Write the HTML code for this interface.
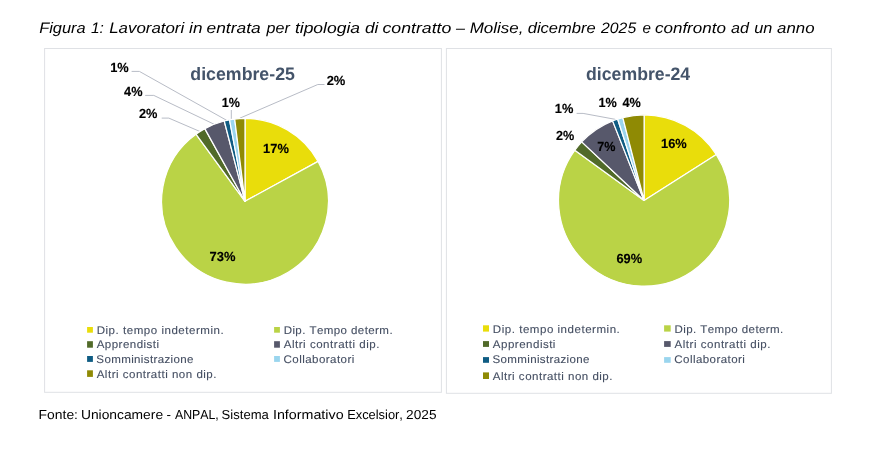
<!DOCTYPE html>
<html lang="it"><head><meta charset="utf-8"><title>Figura 1</title>
<style>
html,body{margin:0;padding:0;background:#fff;}
body{width:881px;height:451px;overflow:hidden;}
svg{display:block;font-family:"Liberation Sans",sans-serif;font-kerning:none;text-rendering:geometricPrecision;}
</style></head>
<body>
<svg width="881" height="451" viewBox="0 0 881 451">
<rect width="881" height="451" fill="#fff"/>
<text y="32.90" font-size="15.1" font-style="italic" fill="#000"><tspan x="39.20" textLength="46.46" lengthAdjust="spacingAndGlyphs">Figura</tspan> <tspan x="91.00" textLength="12.92" lengthAdjust="spacingAndGlyphs">1:</tspan> <tspan x="109.18" textLength="75.04" lengthAdjust="spacingAndGlyphs">Lavoratori</tspan> <tspan x="189.12" textLength="13.36" lengthAdjust="spacingAndGlyphs">in</tspan> <tspan x="206.51" textLength="54.18" lengthAdjust="spacingAndGlyphs">entrata</tspan> <tspan x="266.60" textLength="23.26" lengthAdjust="spacingAndGlyphs">per</tspan> <tspan x="294.91" textLength="65.09" lengthAdjust="spacingAndGlyphs">tipologia</tspan> <tspan x="364.92" textLength="13.39" lengthAdjust="spacingAndGlyphs">di</tspan> <tspan x="382.52" textLength="68.84" lengthAdjust="spacingAndGlyphs">contratto</tspan> <tspan x="456.00" textLength="9.00" lengthAdjust="spacingAndGlyphs">–</tspan> <tspan x="469.68" textLength="53.80" lengthAdjust="spacingAndGlyphs">Molise,</tspan> <tspan x="527.74" textLength="67.87" lengthAdjust="spacingAndGlyphs">dicembre</tspan> <tspan x="601.09" textLength="35.07" lengthAdjust="spacingAndGlyphs">2025</tspan> <tspan x="642.49" textLength="8.48" lengthAdjust="spacingAndGlyphs">e</tspan> <tspan x="654.94" textLength="71.00" lengthAdjust="spacingAndGlyphs">confronto</tspan> <tspan x="731.04" textLength="17.94" lengthAdjust="spacingAndGlyphs">ad</tspan> <tspan x="754.22" textLength="18.12" lengthAdjust="spacingAndGlyphs">un</tspan> <tspan x="777.12" textLength="37.41" lengthAdjust="spacingAndGlyphs">anno</tspan></text>
<text y="418.70" font-size="13.0" fill="#000"><tspan x="38.61" textLength="39.36" lengthAdjust="spacingAndGlyphs">Fonte:</tspan> <tspan x="80.93" textLength="82.18" lengthAdjust="spacingAndGlyphs">Unioncamere</tspan> <tspan x="166.50" textLength="4.50" lengthAdjust="spacingAndGlyphs">-</tspan> <tspan x="174.98" textLength="43.83" lengthAdjust="spacingAndGlyphs">ANPAL,</tspan> <tspan x="221.61" textLength="47.19" lengthAdjust="spacingAndGlyphs">Sistema</tspan> <tspan x="272.98" textLength="70.62" lengthAdjust="spacingAndGlyphs">Informativo</tspan> <tspan x="347.14" textLength="55.81" lengthAdjust="spacingAndGlyphs">Excelsior,</tspan> <tspan x="406.11" textLength="30.36" lengthAdjust="spacingAndGlyphs">2025</tspan></text>
<rect x="44.6" y="48.5" width="396.80" height="343.80" fill="#fff" stroke="#DFE1E5" stroke-width="1"/>
<rect x="446.4" y="48.5" width="385.00" height="344.80" fill="#fff" stroke="#DFE1E5" stroke-width="1"/>
<text x="190.37" y="80.10" font-size="18.0" font-weight="bold" fill="#44546A" textLength="104.52" lengthAdjust="spacingAndGlyphs">dicembre-25</text>
<text x="586.08" y="80.10" font-size="18.0" font-weight="bold" fill="#44546A" textLength="104.12" lengthAdjust="spacingAndGlyphs">dicembre-24</text>
<polyline points="131.6,71.4 139.4,71.4 226.8,120.4" fill="none" stroke="#B8BCC6" stroke-width="1"/>
<polyline points="145.2,95.4 153.8,95.4 214.0,124.2" fill="none" stroke="#B8BCC6" stroke-width="1"/>
<polyline points="161.7,118.1 168.8,118.1 200.2,131.6" fill="none" stroke="#B8BCC6" stroke-width="1"/>
<polyline points="231.3,110.0 231.3,119.5" fill="none" stroke="#B8BCC6" stroke-width="1"/>
<polyline points="324.5,84.5 317.8,84.5 239.8,118.2" fill="none" stroke="#B8BCC6" stroke-width="1"/>
<polyline points="576.6,113.4 583.1,113.4 615.1,119.3" fill="none" stroke="#B8BCC6" stroke-width="1"/>
<path d="M245.00 201.30L245.00 118.40A83.4 82.9 0 0 1 318.08 161.36Z" fill="#E9DD0B" stroke="#fff" stroke-width="1.25" stroke-linejoin="round"/>
<path d="M245.00 201.30L318.08 161.36A83.4 82.9 0 1 1 195.98 134.23Z" fill="#BAD346" stroke="#fff" stroke-width="1.25" stroke-linejoin="round"/>
<path d="M245.00 201.30L195.98 134.23A83.4 82.9 0 0 1 204.82 128.65Z" fill="#516A29" stroke="#fff" stroke-width="1.25" stroke-linejoin="round"/>
<path d="M245.00 201.30L204.82 128.65A83.4 82.9 0 0 1 224.26 121.00Z" fill="#57586B" stroke="#fff" stroke-width="1.25" stroke-linejoin="round"/>
<path d="M245.00 201.30L224.26 121.00A83.4 82.9 0 0 1 229.53 119.84Z" fill="#0F5C83" stroke="#fff" stroke-width="1.25" stroke-linejoin="round"/>
<path d="M245.00 201.30L229.53 119.84A83.4 82.9 0 0 1 234.70 119.03Z" fill="#9AD5EE" stroke="#fff" stroke-width="1.25" stroke-linejoin="round"/>
<path d="M245.00 201.30L234.70 119.03A83.4 82.9 0 0 1 245.00 118.40Z" fill="#8F8A04" stroke="#fff" stroke-width="1.25" stroke-linejoin="round"/>
<path d="M644.10 200.45L644.10 114.85A85.6 85.6 0 0 1 716.37 154.58Z" fill="#E9DD0B" stroke="#fff" stroke-width="1.25" stroke-linejoin="round"/>
<path d="M644.10 200.45L716.37 154.58A85.6 85.6 0 1 1 574.85 150.14Z" fill="#BAD346" stroke="#fff" stroke-width="1.25" stroke-linejoin="round"/>
<path d="M644.10 200.45L574.85 150.14A85.6 85.6 0 0 1 581.70 141.85Z" fill="#516A29" stroke="#fff" stroke-width="1.25" stroke-linejoin="round"/>
<path d="M644.10 200.45L581.70 141.85A85.6 85.6 0 0 1 612.59 120.86Z" fill="#57586B" stroke="#fff" stroke-width="1.25" stroke-linejoin="round"/>
<path d="M644.10 200.45L612.59 120.86A85.6 85.6 0 0 1 617.65 119.04Z" fill="#0F5C83" stroke="#fff" stroke-width="1.25" stroke-linejoin="round"/>
<path d="M644.10 200.45L617.65 119.04A85.6 85.6 0 0 1 622.81 117.54Z" fill="#9AD5EE" stroke="#fff" stroke-width="1.25" stroke-linejoin="round"/>
<path d="M644.10 200.45L622.81 117.54A85.6 85.6 0 0 1 644.10 114.85Z" fill="#8F8A04" stroke="#fff" stroke-width="1.25" stroke-linejoin="round"/>
<text stroke="#000" stroke-width="0.15" x="263.09" y="152.90" font-size="13.2" font-weight="bold" fill="#000" textLength="25.75" lengthAdjust="spacingAndGlyphs">17%</text>
<text stroke="#000" stroke-width="0.15" x="209.54" y="260.60" font-size="13.2" font-weight="bold" fill="#000" textLength="25.90" lengthAdjust="spacingAndGlyphs">73%</text>
<text stroke="#000" stroke-width="0.15" x="138.96" y="118.20" font-size="13.2" font-weight="bold" fill="#000" textLength="18.48" lengthAdjust="spacingAndGlyphs">2%</text>
<text stroke="#000" stroke-width="0.15" x="124.11" y="95.60" font-size="13.2" font-weight="bold" fill="#000" textLength="18.43" lengthAdjust="spacingAndGlyphs">4%</text>
<text stroke="#000" stroke-width="0.15" x="110.19" y="71.90" font-size="13.2" font-weight="bold" fill="#000" textLength="18.55" lengthAdjust="spacingAndGlyphs">1%</text>
<text stroke="#000" stroke-width="0.15" x="221.71" y="106.90" font-size="13.2" font-weight="bold" fill="#000" textLength="18.12" lengthAdjust="spacingAndGlyphs">1%</text>
<text stroke="#000" stroke-width="0.15" x="326.65" y="84.60" font-size="13.2" font-weight="bold" fill="#000" textLength="18.69" lengthAdjust="spacingAndGlyphs">2%</text>
<text stroke="#000" stroke-width="0.15" x="660.99" y="147.70" font-size="13.2" font-weight="bold" fill="#000" textLength="25.75" lengthAdjust="spacingAndGlyphs">16%</text>
<text stroke="#000" stroke-width="0.15" x="616.43" y="262.60" font-size="13.2" font-weight="bold" fill="#000" textLength="25.71" lengthAdjust="spacingAndGlyphs">69%</text>
<text stroke="#000" stroke-width="0.15" x="556.06" y="139.50" font-size="13.2" font-weight="bold" fill="#000" textLength="18.27" lengthAdjust="spacingAndGlyphs">2%</text>
<text stroke="#000" stroke-width="0.15" x="597.36" y="150.70" font-size="13.2" font-weight="bold" fill="#000" textLength="18.17" lengthAdjust="spacingAndGlyphs">7%</text>
<text stroke="#000" stroke-width="0.15" x="554.79" y="112.70" font-size="13.2" font-weight="bold" fill="#000" textLength="18.55" lengthAdjust="spacingAndGlyphs">1%</text>
<text stroke="#000" stroke-width="0.15" x="598.50" y="107.40" font-size="13.2" font-weight="bold" fill="#000" textLength="18.33" lengthAdjust="spacingAndGlyphs">1%</text>
<text stroke="#000" stroke-width="0.15" x="622.51" y="107.00" font-size="13.2" font-weight="bold" fill="#000" textLength="18.33" lengthAdjust="spacingAndGlyphs">4%</text>
<rect x="87.10" y="327.00" width="5.80" height="5.70" fill="#E9DD0B"/>
<text transform="scale(1.04 1)" x="92.94" y="333.70" font-size="11.1" fill="#434D61" letter-spacing="0.502" stroke="#434D61" stroke-width="0.1">Dip. tempo indetermin.</text>
<rect x="274.10" y="327.00" width="5.80" height="5.70" fill="#BAD346"/>
<text transform="scale(1.04 1)" x="272.74" y="333.70" font-size="11.1" fill="#434D61" letter-spacing="0.396" stroke="#434D61" stroke-width="0.1">Dip. Tempo determ.</text>
<rect x="87.10" y="341.20" width="5.80" height="6.50" fill="#516A29"/>
<text transform="scale(1.04 1)" x="92.96" y="348.30" font-size="11.1" fill="#434D61" letter-spacing="0.447" stroke="#434D61" stroke-width="0.1">Apprendisti</text>
<rect x="274.10" y="341.20" width="5.80" height="6.50" fill="#57586B"/>
<text transform="scale(1.04 1)" x="272.77" y="348.30" font-size="11.1" fill="#434D61" letter-spacing="0.501" stroke="#434D61" stroke-width="0.1">Altri contratti dip.</text>
<rect x="87.10" y="356.00" width="5.80" height="5.90" fill="#0F5C83"/>
<text transform="scale(1.04 1)" x="92.67" y="362.60" font-size="11.1" fill="#434D61" letter-spacing="0.346" stroke="#434D61" stroke-width="0.1">Somministrazione</text>
<rect x="274.10" y="356.00" width="5.80" height="5.90" fill="#9AD5EE"/>
<text transform="scale(1.04 1)" x="272.61" y="362.60" font-size="11.1" fill="#434D61" letter-spacing="0.434" stroke="#434D61" stroke-width="0.1">Collaboratori</text>
<rect x="87.10" y="370.30" width="5.80" height="6.60" fill="#8F8A04"/>
<text transform="scale(1.04 1)" x="92.96" y="377.50" font-size="11.1" fill="#434D61" letter-spacing="0.478" stroke="#434D61" stroke-width="0.1">Altri contratti non dip.</text>
<rect x="483.00" y="325.30" width="6.00" height="6.30" fill="#E9DD0B"/>
<text transform="scale(1.04 1)" x="473.90" y="332.90" font-size="11.1" fill="#434D61" letter-spacing="0.498" stroke="#434D61" stroke-width="0.1">Dip. tempo indetermin.</text>
<rect x="664.10" y="325.30" width="6.60" height="6.30" fill="#BAD346"/>
<text transform="scale(1.04 1)" x="648.51" y="332.90" font-size="11.1" fill="#434D61" letter-spacing="0.390" stroke="#434D61" stroke-width="0.1">Dip. Tempo determ.</text>
<rect x="483.00" y="341.10" width="6.00" height="5.80" fill="#516A29"/>
<text transform="scale(1.04 1)" x="473.92" y="348.00" font-size="11.1" fill="#434D61" letter-spacing="0.466" stroke="#434D61" stroke-width="0.1">Apprendisti</text>
<rect x="664.10" y="341.10" width="6.60" height="5.80" fill="#57586B"/>
<text transform="scale(1.04 1)" x="648.54" y="348.00" font-size="11.1" fill="#434D61" letter-spacing="0.506" stroke="#434D61" stroke-width="0.1">Altri contratti dip.</text>
<rect x="483.00" y="357.10" width="6.00" height="5.70" fill="#0F5C83"/>
<text transform="scale(1.04 1)" x="473.63" y="363.40" font-size="11.1" fill="#434D61" letter-spacing="0.333" stroke="#434D61" stroke-width="0.1">Somministrazione</text>
<rect x="664.10" y="357.10" width="6.60" height="5.70" fill="#9AD5EE"/>
<text transform="scale(1.04 1)" x="648.38" y="363.40" font-size="11.1" fill="#434D61" letter-spacing="0.410" stroke="#434D61" stroke-width="0.1">Collaboratori</text>
<rect x="483.00" y="372.40" width="6.00" height="6.60" fill="#8F8A04"/>
<text transform="scale(1.04 1)" x="473.92" y="379.50" font-size="11.1" fill="#434D61" letter-spacing="0.470" stroke="#434D61" stroke-width="0.1">Altri contratti non dip.</text>
</svg>
</body></html>
